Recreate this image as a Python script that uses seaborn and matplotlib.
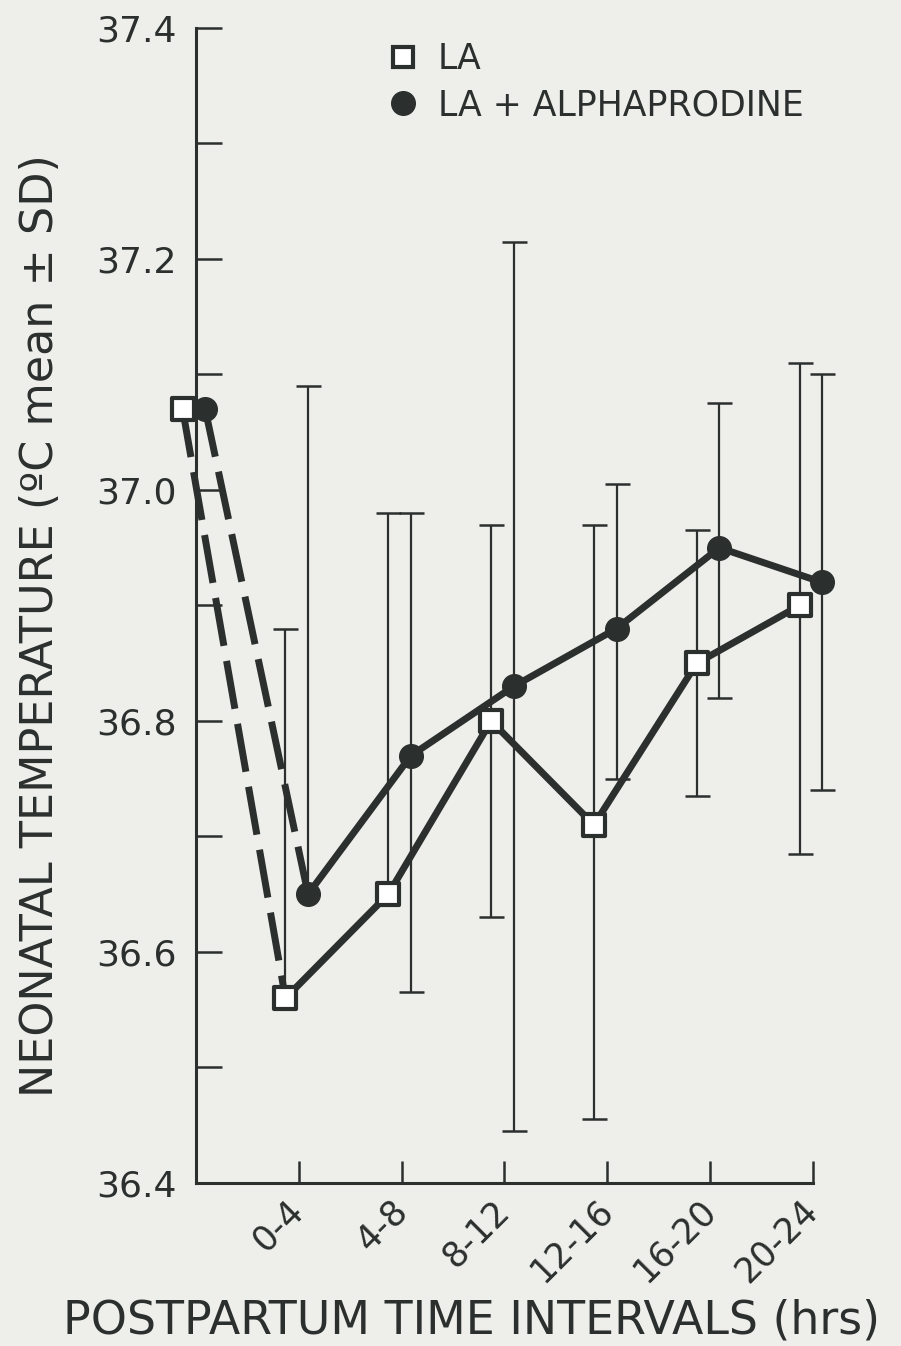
import numpy as np
import pandas as pd
import matplotlib
import matplotlib.pyplot as plt
import matplotlib.transforms as mtransforms
from matplotlib.lines import Line2D
from matplotlib.ticker import MultipleLocator
import seaborn as sns

matplotlib.use("Agg")
sns.set_theme(style="ticks")
plt.rcParams["font.family"] = ["DejaVu Sans"]

# ---------------------------------------------------------------
# Data (deg C, mean and mean +/- SD)
intervals = ["0-4", "4-8", "8-12", "12-16", "16-20", "20-24"]

la_birth = 37.07
la_mean = [36.56, 36.65, 36.80, 36.71, 36.85, 36.90]
la_upper = [36.88, 36.98, 36.97, 36.97, 36.965, 37.11]
la_lower = [np.nan, np.nan, 36.63, 36.455, 36.735, 36.685]

alpha_birth = 37.07
alpha_mean = [36.65, 36.77, 36.83, 36.88, 36.95, 36.92]
alpha_upper = [37.09, 36.98, 37.215, 37.005, 37.075, 37.10]
alpha_lower = [np.nan, 36.565, 36.445, 36.75, 36.82, 36.74]

series_names = ["LA", "LA + ALPHAPRODINE"]

ink = "#2b2f2d"
paper = "#eeefeb"

# ---------------------------------------------------------------
pos = np.arange(1, len(intervals) + 1)
offsets = {"LA": -0.13, "LA + ALPHAPRODINE": 0.09}

solid_df = pd.concat([
    pd.DataFrame({"x": pos + offsets["LA"], "temp": la_mean, "group": "LA"}),
    pd.DataFrame({"x": pos + offsets["LA + ALPHAPRODINE"], "temp": alpha_mean,
                  "group": "LA + ALPHAPRODINE"}),
])
dash_df = pd.DataFrame({
    "x": [offsets["LA"], 1 + offsets["LA"],
          offsets["LA + ALPHAPRODINE"], 1 + offsets["LA + ALPHAPRODINE"]],
    "temp": [la_birth, la_mean[0], alpha_birth, alpha_mean[0]],
    "group": ["LA", "LA", "LA + ALPHAPRODINE", "LA + ALPHAPRODINE"],
})

fig = plt.figure(figsize=(9.01, 13.46), dpi=100, facecolor=paper)
ax = fig.add_axes([0.2175, 0.1211, 0.6848, 0.8581])
ax.set_facecolor(paper)

# error bars: stems + caps (lower bar omitted where the paper omits it)
for name, mean, lo, hi in [("LA", la_mean, la_lower, la_upper),
                           ("LA + ALPHAPRODINE", alpha_mean, alpha_lower, alpha_upper)]:
    xs = pos + offsets[name]
    m = np.array(mean)
    lo = np.array(lo)
    hi = np.array(hi)
    ax.vlines(xs, np.where(np.isnan(lo), m, lo), hi, color=ink,
              linewidth=1.6, zorder=1, clip_on=False)
    for ends in (lo, hi):
        ax.plot(xs, ends, linestyle="none", marker="_", markersize=18,
                markeredgewidth=1.8, color=ink, zorder=1, clip_on=False)

# connecting lines
sns.lineplot(data=solid_df, x="x", y="temp", units="group", estimator=None,
             color=ink, linewidth=5, ax=ax, zorder=2, legend=False,
             clip_on=False)
for g, sub in dash_df.groupby("group"):
    sns.lineplot(data=sub, x="x", y="temp", estimator=None, color=ink,
                 linewidth=5, linestyle=(0, (7, 2.2)), ax=ax, zorder=2,
                 legend=False, clip_on=False)

# markers
la_pts = pd.DataFrame({"x": np.r_[offsets["LA"], pos + offsets["LA"]],
                       "temp": np.r_[la_birth, la_mean]})
al_pts = pd.DataFrame({"x": np.r_[offsets["LA + ALPHAPRODINE"],
                                  pos + offsets["LA + ALPHAPRODINE"]],
                       "temp": np.r_[alpha_birth, alpha_mean]})
sns.scatterplot(data=la_pts, x="x", y="temp", marker="s", s=270,
                color="white", edgecolor=ink, linewidth=3, ax=ax, zorder=3,
                clip_on=False)
sns.scatterplot(data=al_pts, x="x", y="temp", marker="o", s=290,
                color=ink, edgecolor=ink, linewidth=1, ax=ax, zorder=3,
                clip_on=False)

# axes styling
ax.set_xlim(0, len(intervals))
ax.set_ylim(36.4, 37.4)
ax.set_xticks(pos)
ax.set_xticklabels(intervals, rotation=45, ha="right", va="center",
                   rotation_mode="anchor", fontsize=25, color=ink)
shift = mtransforms.ScaledTranslation(-13 / 72, -3 / 72, fig.dpi_scale_trans)
for lab in ax.get_xticklabels():
    lab.set_transform(lab.get_transform() + shift)
ax.yaxis.set_major_locator(MultipleLocator(0.2))
ax.yaxis.set_minor_locator(MultipleLocator(0.1))
ax.set_yticklabels([f"{v:.1f}" for v in ax.get_yticks()], fontsize=26, color=ink)
ax.tick_params(axis="y", which="both", direction="in", length=19,
               width=1.8, color=ink)
ax.tick_params(axis="x", which="both", direction="in", length=16,
               width=1.8, color=ink)
ax.tick_params(axis="y", which="major", pad=14)
ax.tick_params(axis="x", which="major", pad=16)
for side in ["top", "right"]:
    ax.spines[side].set_visible(False)
for side in ["left", "bottom"]:
    ax.spines[side].set_color(ink)
    ax.spines[side].set_linewidth(2.2)

ax.set_ylabel("NEONATAL TEMPERATURE (ºC mean ± SD)", fontsize=32, color=ink)
ax.yaxis.set_label_coords(-0.217, 0.483)
ax.set_xlabel("POSTPARTUM TIME INTERVALS (hrs)", fontsize=33, color=ink)
ax.xaxis.set_label_coords(0.447, -0.100)

handles = [
    Line2D([], [], linestyle="none", marker="s", markersize=15,
           markerfacecolor="white", markeredgecolor=ink, markeredgewidth=3),
    Line2D([], [], linestyle="none", marker="o", markersize=17,
           markerfacecolor=ink, markeredgecolor=ink),
]
ax.legend(handles, series_names, loc="upper left",
          bbox_to_anchor=(0.257, 1.015), frameon=False, fontsize=25,
          labelcolor=ink, handletextpad=0.5, labelspacing=0.35,
          handlelength=1.0)

fig.savefig("out.png", dpi=100, facecolor=paper)
